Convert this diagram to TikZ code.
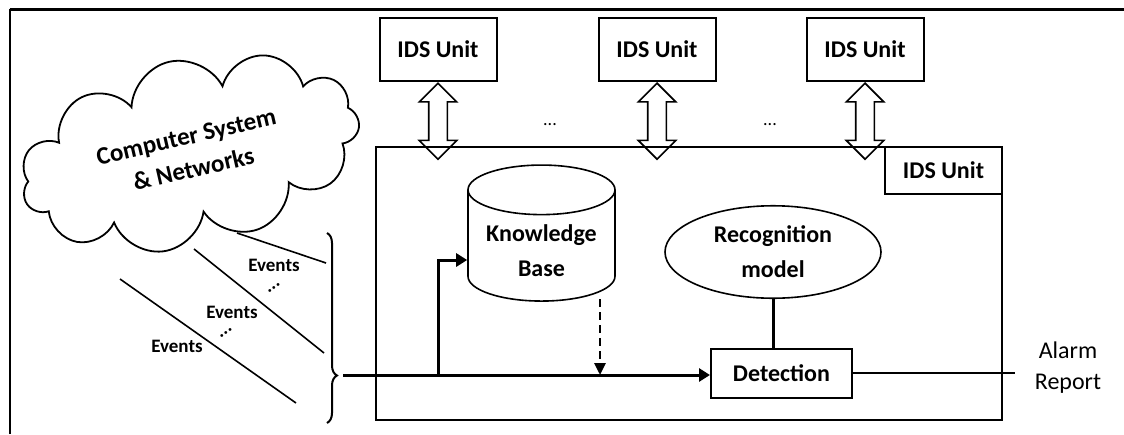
\documentclass[tikz,border=0pt]{standalone}
\usepackage{fontspec}
\setmainfont{Carlito}
\usetikzlibrary{arrows.meta, positioning, shapes.geometric, shapes.symbols, shapes.arrows, decorations.pathreplacing}

\tikzset{
  unitbox/.style={draw, line width=1pt, minimum width=58.5pt, minimum height=31.5pt, font=\fontsize{12}{14}\selectfont\bfseries},
  dblarrow/.style={draw, line width=0.8pt, double arrow, shape border rotate=90, minimum height=38pt, minimum width=18pt, double arrow head extend=4.75pt, inner sep=4.25pt},
  lbl/.style={font=\fontsize{12}{17.5}\selectfont\bfseries, align=center},
  evt/.style={font=\fontsize{9.5}{11}\selectfont\bfseries},
  flow/.style={line width=1.5pt, -{Triangle[length=5.5pt,width=6.5pt]}},
}

\begin{document}
\begin{tikzpicture}[x=0.5pt, y=-0.5pt]
    \useasboundingbox (0,0) rectangle (1124,434);
    \draw[line width=1pt] (10,434) -- (10,9);
    \draw[line width=1.5pt] (9.5,9) -- (1124,9);
    \node[unitbox] (u1) at (438,49.5) {IDS Unit};
    \node[unitbox] (u2) at (657,49.5) {IDS Unit};
    \node[unitbox] (u3) at (865,49.5) {IDS Unit};
    \node[dblarrow, below=0pt of u1] (a1) {};
    \node[dblarrow, below=0pt of u2] (a2) {};
    \node[dblarrow, below=0pt of u3] (a3) {};
    \node[font=\fontsize{9}{10}\selectfont] (d1) at (550,125) {...};
    \node[font=\fontsize{9}{10}\selectfont] (d2) at (770,125) {...};
    \node[draw, line width=0.75pt, minimum width=313pt, minimum height=136.5pt] (ids) at (689,283.5) {};
    \node[draw, line width=0.75pt, anchor=north east, minimum width=58.5pt, minimum height=23.5pt, font=\fontsize{12}{14}\selectfont\bfseries] (idsl) at (ids.north east) {IDS Unit};
    \node[cloud, draw, line width=0.9pt, cloud puffs=11, aspect=1.9, minimum width=172pt, minimum height=90pt, inner sep=0pt, rotate=13, font=\fontsize{12.5}{16.5}\selectfont\bfseries, align=center] (net) at (190,153) {Computer System\\\& Networks};
    \node[cylinder, draw, line width=0.8pt, shape border rotate=90, aspect=0.4, minimum width=73.5pt, minimum height=68pt, lbl] (kb) at (541.5,251) {Knowledge\\Base};
    \node[ellipse, draw, line width=0.8pt, minimum width=108pt, minimum height=45pt, lbl] (rm) at (773,252) {Recognition\\model};
    \node[draw, line width=1pt, minimum width=70.5pt, minimum height=24.5pt, lbl] (det) at (781.5,373) {Detection};
    \node[font=\fontsize{12}{15.5}\selectfont, align=center] (rep) at (1068,368) {Alarm\\Report};
    \coordinate (e1a) at (237,233);
    \coordinate (e1b) at (326,263);
    \coordinate (e2a) at (194,249);
    \coordinate (e2b) at (324,353);
    \coordinate (e3a) at (120,279);
    \coordinate (e3b) at (296,403);
    \draw[line width=0.8pt] (e1a) -- (e1b);
    \draw[line width=0.8pt] (e2a) -- (e2b);
    \draw[line width=0.8pt] (e3a) -- (e3b);
    \node[evt] (ev1) at (274,265) {Events};
    \node[evt] (ev2) at (232,312) {Events};
    \node[evt] (ev3) at (177,346) {Events};
    \node[evt, rotate=37] (ed1) at (274,288) {...};
    \node[evt, rotate=37] (ed2) at (226,333) {...};
    \draw[line width=1pt, decorate, decoration={brace, amplitude=5pt, aspect=0.75}] (327,233) -- (327,423);
    \coordinate (brtip) at (343,375);
    \coordinate (j1) at (438,375);
    \coordinate (kbo) at (600,299);
    \coordinate (alm) at (1015,373);
    \draw[flow] (brtip) -- (brtip -| det.west);
    \draw[flow] (j1) |- (kb.west |- 0,260);
    \draw[line width=1.4pt, dash pattern=on 4pt off 2.5pt, -{Triangle[length=6pt,width=5.5pt]}] (kbo) -- (kbo |- brtip);
    \draw[line width=1.5pt] (rm.south) -- (rm.south |- det.north);
    \draw[line width=1.3pt] (det.east) -- (alm);
\end{tikzpicture}
\end{document}
